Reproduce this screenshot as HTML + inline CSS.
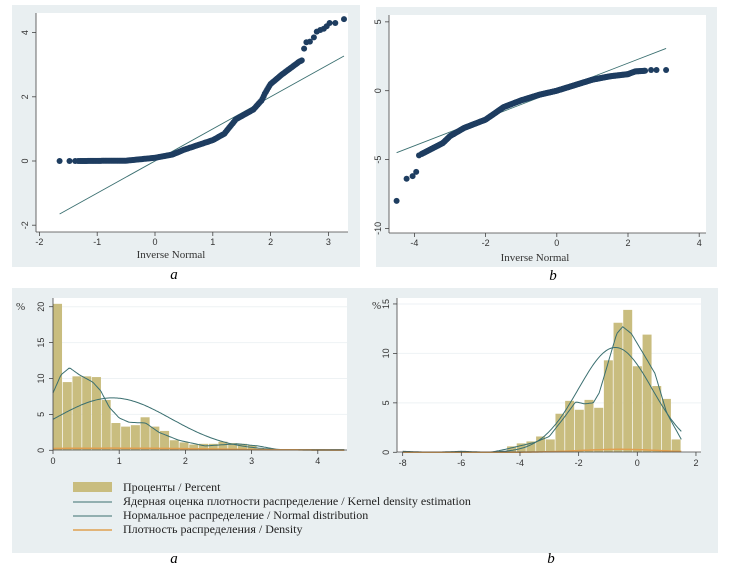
<!DOCTYPE html>
<html><head><meta charset="utf-8"><style>
html,body{margin:0;padding:0;background:#fff;width:732px;height:570px;overflow:hidden}
svg{display:block}
text{font-family:"Liberation Sans",sans-serif}
text.s{font-family:"Liberation Serif","DejaVu Serif",serif}
</style></head><body>
<svg id="chart" width="732" height="570" xmlns="http://www.w3.org/2000/svg">
<rect x="12" y="5" width="348" height="262" fill="#e9eff1"/>
<rect x="376" y="7" width="341" height="260" fill="#e9eff1"/>
<rect x="12" y="288" width="706" height="265" fill="#e9eff1"/>
<rect x="36" y="13" width="312" height="219" fill="#fff"/>
<rect x="389" y="15" width="317" height="218" fill="#fff"/>
<rect x="53" y="298" width="294" height="152" fill="#fff"/>
<rect x="397" y="298" width="304" height="154" fill="#fff"/>
<g id="layer"></g>
<text x="171" y="258" font-size="11" text-anchor="middle" class="s" fill="#333">Inverse Normal</text>
<text x="535" y="261" font-size="11" text-anchor="middle" class="s" fill="#333">Inverse Normal</text>
<text x="174" y="279" font-size="15" font-style="italic" text-anchor="middle" class="s">a</text>
<text x="553" y="280" font-size="15" font-style="italic" text-anchor="middle" class="s">b</text>
<text x="174" y="563" font-size="15" font-style="italic" text-anchor="middle" class="s">a</text>
<text x="551" y="563" font-size="15" font-style="italic" text-anchor="middle" class="s">b</text>
<text x="16" y="310" font-size="11" class="s" fill="#333">%</text>
<text x="372" y="309" font-size="11" class="s" fill="#333">%</text>
<rect x="73" y="482" width="39" height="10" fill="#c9bd7f"/>
<line x1="73" y1="502" x2="112" y2="502" stroke="#3a6f70" stroke-width="1"/>
<line x1="73" y1="516" x2="112" y2="516" stroke="#3a6f70" stroke-width="1"/>
<line x1="73" y1="530" x2="112" y2="530" stroke="#e0a050" stroke-width="1.5"/>
<text class="s" font-size="12" fill="#222" x="123" y="491">Проценты / Percent</text>
<text class="s" font-size="12" fill="#222" x="123" y="505">Ядерная оценка плотности распределение / Kernel density estimation</text>
<text class="s" font-size="12" fill="#222" x="123" y="519">Нормальное распределение / Normal distribution</text>
<text class="s" font-size="12" fill="#222" x="123" y="533">Плотность распределения / Density</text>
</svg>
<script>
(function(){
var NS='http://www.w3.org/2000/svg';
var layer=document.getElementById('layer');
var C='#1e3d60',L='#3a6f70',OR='#e0a050';
function el(tag,attrs,txt){var e=document.createElementNS(NS,tag);for(var k in attrs){e.setAttribute(k,attrs[k]);}if(txt!==undefined){e.appendChild(document.createTextNode(String(txt)));}layer.appendChild(e);return e;}
function ax(x1,y1,x2,y2){el('line',{x1:x1,y1:y1,x2:x2,y2:y2,stroke:'#444','stroke-width':0.8});}
function tx(x,y,t,rot){var a={x:x,y:y,'font-size':9,fill:'#333','text-anchor':'middle'};if(rot){a.transform='rotate(-90 '+x+' '+y+')';}el('text',a,t);}
function interp(p,x){for(var i=0;i<p.length-1;i++){if(x>=p[i][0]&&x<=p[i+1][0]){var t=(x-p[i][0])/(p[i+1][0]-p[i][0]);return p[i][1]+t*(p[i+1][1]-p[i][1]);}}return p[p.length-1][1];}
function path(d,col,w){el('path',{d:d,fill:'none',stroke:col,'stroke-width':w});}
function smooth(p,X,Y,col,w){var d='';var x0=p[0][0],x1=p[p.length-1][0];for(var i=0;i<=200;i++){var x=x0+(x1-x0)*i/200;d+=(i?'L':'M')+X(x).toFixed(1)+','+Y(interp(p,x)).toFixed(1);}path(d,col,w);}
function fn(f,a,b,X,Y,col,w){var d='';for(var i=0;i<=200;i++){var x=a+(b-a)*i/200;d+=(i?'L':'M')+X(x).toFixed(1)+','+Y(f(x)).toFixed(1);}path(d,col,w);}
function dots(pts,X,Y){for(var i=0;i<pts.length;i++){el('circle',{cx:X(pts[i][0]).toFixed(1),cy:Y(pts[i][1]).toFixed(1),r:3,fill:C});}}
var v,i,x;
try{
var X1=function(x){return 155+57.8*x;},Y1=function(y){return 161-32.1*y;};
ax(36,232,348,232);ax(36,13,36,232);
for(v=-2;v<=3;v++){ax(X1(v),232,X1(v),236);tx(X1(v),245,v);}
var yt=[-2,0,2,4];for(i=0;i<yt.length;i++){ax(32,Y1(yt[i]),36,Y1(yt[i]));tx(28,Y1(yt[i]),yt[i],1);}
el('line',{x1:X1(-1.65),y1:Y1(-1.65),x2:X1(3.27),y2:Y1(3.27),stroke:L,'stroke-width':0.9});
var pts=[[-1.65,0],[-1.48,0],[-1.38,0],[-1.33,0]];
var cur=[[-1.3,0],[-0.5,0.01],[0,0.1],[0.3,0.2],[0.5,0.35],[1,0.65],[1.2,0.85],[1.4,1.3],[1.7,1.6],[1.85,1.9],[1.9,2.1],[2.0,2.4],[2.2,2.7],[2.5,3.1],[2.56,3.15]];
for(x=-1.3;x<=2.56;x+=0.02){pts.push([x,interp(cur,x)]);}
pts.push([2.58,3.5],[2.62,3.7],[2.68,3.72],[2.75,3.85],[2.8,4.03],[2.86,4.08],[2.92,4.12],[2.97,4.2],[3.02,4.3],[3.12,4.3],[3.27,4.42]);
dots(pts,X1,Y1);
}catch(e){}
try{
var X2=function(x){return 556.8+35.6*x;},Y2=function(y){return 90.7-13.77*y;};
ax(389,233,706,233);ax(389,15,389,233);
for(v=-4;v<=4;v+=2){ax(X2(v),233,X2(v),237);tx(X2(v),246,v);}
var yt2=[-10,-5,0,5];for(i=0;i<yt2.length;i++){ax(385,Y2(yt2[i]),389,Y2(yt2[i]));tx(381,Y2(yt2[i]),yt2[i],1);}
el('line',{x1:X2(-4.5),y1:Y2(-4.5),x2:X2(3.07),y2:Y2(3.07),stroke:L,'stroke-width':0.9});
var pb=[[-4.5,-8],[-4.22,-6.4],[-4.05,-6.2],[-3.95,-5.9],[-3.87,-4.7]];
var cb=[[-3.8,-4.6],[-3.5,-4.2],[-3.2,-3.8],[-3,-3.3],[-2.6,-2.7],[-2,-2.1],[-1.5,-1.2],[-1,-0.7],[-0.5,-0.3],[0,0],[0.5,0.4],[1,0.8],[1.5,1.05],[2,1.2],[2.2,1.4],[2.5,1.45]];
for(x=-3.8;x<=2.5;x+=0.02){pb.push([x,interp(cb,x)]);}
pb.push([2.65,1.5],[2.8,1.5],[3.07,1.5]);
dots(pb,X2,Y2);
}catch(e){}
try{
var X3=function(x){return 53+66.2*x;},Y3=function(y){return 450.3-7.18*y;};
var gl=[5,10,15,20];for(i=0;i<gl.length;i++){el('line',{x1:53,y1:Y3(gl[i]),x2:347,y2:Y3(gl[i]),stroke:'#eef2f4'});}
var hs=[20.4,9.5,10.3,10.3,10.2,7.0,3.8,3.3,3.5,4.6,3.3,2.7,1.4,1.1,0.8,0.9,0.9,1.2,1.0,0.9,0.7,0.1,0.1,0.1,0.1,0.1,0.15,0.15,0.1,0.1];var w=0.147;
for(i=0;i<hs.length;i++){el('rect',{x:X3(i*w),y:Y3(hs[i]),width:66.2*w-0.7,height:7.18*hs[i],fill:'#c9bd7f'});}
smooth([[0,8],[0.12,10.5],[0.25,11.5],[0.4,10.5],[0.6,9.5],[0.72,8.3],[0.85,6],[1.0,4.5],[1.15,3.9],[1.4,3.8],[1.6,2.5],[1.9,1.4],[2.3,0.6],[2.6,0.8],[2.8,0.9],[3.1,0.6],[3.4,0.1],[4.4,0.1]],X3,Y3,L,1);
fn(function(x){return 7.3*Math.exp(-(x-0.9)*(x-0.9)/(2*0.77));},0,4.4,X3,Y3,L,1);
fn(function(x){return 0.3*Math.exp(-(x-0.9)*(x-0.9)/(2*2.5));},0,4.4,X3,Y3,OR,1.5);
ax(53,450,347,450);ax(53,298,53,450);
for(v=0;v<=4;v++){ax(X3(v),450,X3(v),454);tx(X3(v),464,v);}
var yt3=[0,5,10,15,20];for(i=0;i<yt3.length;i++){ax(49,Y3(yt3[i]),53,Y3(yt3[i]));tx(44,Y3(yt3[i]),yt3[i],1);}
}catch(e){}
try{
var X4=function(x){return 637.3+29.33*x;},Y4=function(y){return 452.3-9.89*y;};
var gl4=[5,10,15];for(i=0;i<gl4.length;i++){el('line',{x1:397,y1:Y4(gl4[i]),x2:701,y2:Y4(gl4[i]),stroke:'#eef2f4'});}
var hb=[0.6,0.9,1.1,1.6,1.3,3.9,5.2,4.3,5.3,4.5,9.3,13.1,14.4,8.7,11.9,6.7,5.4,1.3];var wb=0.33,s0=1.5-18*wb;
for(i=0;i<hb.length;i++){el('rect',{x:X4(s0+i*wb),y:Y4(hb[i]),width:29.33*wb-0.7,height:9.89*hb[i],fill:'#c9bd7f'});}
smooth([[-8,0.1],[-7,0],[-6,0.1],[-5,0],[-4.5,0.3],[-3.5,1],[-3,1.6],[-2.5,3.5],[-2.1,5.1],[-1.8,4.9],[-1.5,5],[-1.3,6],[-1,9],[-0.7,12],[-0.5,12.7],[-0.2,12],[0.3,9.5],[0.6,8],[1,4],[1.5,1.3]],X4,Y4,L,1);
fn(function(x){return 10.6*Math.exp(-(x+0.75)*(x+0.75)/(2*1.57));},-8,1.5,X4,Y4,L,1);
fn(function(x){return 0.3*Math.exp(-(x+0.6)*(x+0.6)/(2*1.8));},-8,1.5,X4,Y4,OR,1.5);
ax(397,452,701,452);ax(397,298,397,452);
for(v=-8;v<=2;v+=2){ax(X4(v),452,X4(v),456);tx(X4(v),466,v);}
var yt4=[0,5,10,15];for(i=0;i<yt4.length;i++){ax(393,Y4(yt4[i]),397,Y4(yt4[i]));tx(389,Y4(yt4[i]),yt4[i],1);}
}catch(e){}
})();
</script>
</body></html>
